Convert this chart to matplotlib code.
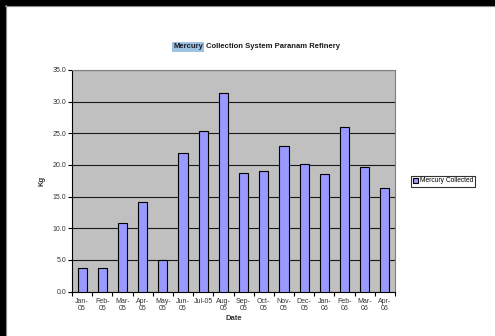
import numpy as np
import matplotlib.pyplot as plt
from matplotlib.patches import Rectangle

plt.rcParams['font.family'] = ['Liberation Sans', 'DejaVu Sans']

# Data
months = ['Jan-\n05', 'Feb-\n05', 'Mar-\n05', 'Apr-\n05', 'May-\n05', 'Jun-\n05',
          'Jul-05', 'Aug-\n05', 'Sep-\n05', 'Oct-\n05', 'Nov-\n05', 'Dec-\n05',
          'Jan-\n06', 'Feb-\n06', 'Mar-\n06', 'Apr-\n06']
mercury = [3.7, 3.7, 10.8, 14.1, 4.9, 21.9, 25.4, 31.3, 18.8, 19.1,
           23.0, 20.2, 18.6, 26.0, 19.6, 16.4]
yticks = [0, 5, 10, 15, 20, 25, 30, 35]

W, H = 495, 336
fig = plt.figure(figsize=(W / 100, H / 100), dpi=100)
fig.patch.set_facecolor('white')

# black screenshot border (top and left)
fig.patches.append(Rectangle((0, 1 - 5 / H), 1, 5 / H, transform=fig.transFigure,
                             color='black', zorder=0))
fig.patches.append(Rectangle((0, 0), 5 / W, 1, transform=fig.transFigure,
                             color='black', zorder=0))
fig.lines.append(plt.Line2D([5 / W, 1], [1 - 5.5 / H] * 2, transform=fig.transFigure,
                            color='#888888', lw=0.8))
fig.lines.append(plt.Line2D([5.5 / W] * 2, [0, 1 - 5 / H], transform=fig.transFigure,
                            color='#888888', lw=0.8))

ax = fig.add_axes([72 / W, 1 - 291.5 / H, (395 - 72) / W, (291.5 - 70) / H])
ax.set_facecolor('#c0c0c0')

x = np.arange(len(months))
ax.bar(x, mercury, width=0.45, color='#9999ff', edgecolor='black', linewidth=0.8,
       zorder=3, label='Mercury Collected')

ax.set_xlim(-0.5, len(months) - 0.5)
ax.set_ylim(0, 35)
ax.set_yticks(yticks)
ax.set_yticklabels([f'{v:.1f}' for v in yticks], fontsize=5, color='#333333')
ax.yaxis.grid(True, color='#1a1a1a', linewidth=0.8, zorder=1)
ax.set_axisbelow(True)

ax.set_xticks(x)
ax.set_xticklabels(months, fontsize=5, color='#333333', linespacing=0.9)
ax.set_xticks(np.arange(len(months) + 1) - 0.5, minor=True)
ax.tick_params(axis='x', which='major', length=0, pad=5)
ax.tick_params(axis='x', which='minor', length=3, width=0.8, direction='out')
ax.tick_params(axis='y', length=3, width=0.8, direction='out', pad=1)

for s in ['left', 'bottom']:
    ax.spines[s].set_color('black')
    ax.spines[s].set_linewidth(0.8)
for s in ['top', 'right']:
    ax.spines[s].set_color('#808080')
    ax.spines[s].set_linewidth(0.8)

ax.set_xlabel('Date', fontsize=5.5, fontweight='bold', color='#333333', labelpad=2)
ax.set_ylabel('Kg', fontsize=5.5, fontweight='bold', color='#333333', labelpad=5)

# title with highlighted first word
fig.text(203 / W, 1 - 47 / H, 'Mercury', fontsize=5.5, fontweight='bold', ha='right',
         va='center', color='#1a1a2a',
         bbox=dict(boxstyle='square,pad=0.15', facecolor='#9ec3de', edgecolor='none'))
fig.text(203.5 / W, 1 - 47 / H, ' Collection System Paranam Refinery', fontsize=5.5,
         fontweight='bold', ha='left', va='center', color='#1a1a1a')

leg = fig.legend(loc='center left', bbox_to_anchor=(411 / W, 1 - 181 / H), fontsize=4.8,
                 frameon=True, fancybox=False, edgecolor='black', handlelength=0.8,
                 handleheight=0.8, handletextpad=0.2, borderpad=0.3, borderaxespad=0)
leg.get_frame().set_linewidth(0.8)

fig.savefig('out.png', dpi=100)
